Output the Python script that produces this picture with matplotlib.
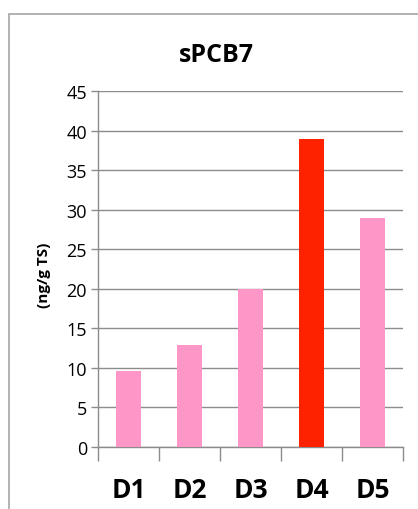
import matplotlib.pyplot as plt
from matplotlib.patches import Rectangle

categories = ["D1", "D2", "D3", "D4", "D5"]
values = [9.6, 12.9, 20.0, 38.9, 29.0]
bar_colors = ["#ff96c8", "#ff96c8", "#ff96c8", "#ff2200", "#ff96c8"]
y_ticks = [0, 5, 10, 15, 20, 25, 30, 35, 40, 45]

plt.rcParams['font.family'] = ['Open Sans', 'DejaVu Sans']

W, H = 418, 510
fig = plt.figure(figsize=(W / 100, H / 100), dpi=100)

# outer chart frame, cut off on the right and bottom
fig.add_artist(Rectangle((9 / W, -0.1), 2, 1 - 15 / H + 0.1, transform=fig.transFigure,
                         fill=False, edgecolor="#a6a6a6", linewidth=1.2))

ax = fig.add_axes([98 / W, (H - 448) / H, 305 / W, 356 / H])

x = list(range(len(categories)))
ax.bar(x, values, width=0.41, color=bar_colors, zorder=3)

ax.set_xlim(-0.5, len(categories) - 0.5)
ax.set_ylim(0, 45)
ax.set_yticks(y_ticks)
ax.set_yticklabels([str(v) for v in y_ticks], fontsize=13)
ax.yaxis.grid(True, color="#8c8c8c", linewidth=1.0, zorder=0)

ax.set_xticks(x)
ax.set_xticklabels(categories, fontsize=19, fontweight="bold")
ax.tick_params(axis="x", which="major", length=0, pad=21)
ax.set_xticks([i - 0.5 for i in range(len(categories) + 1)], minor=True)
ax.tick_params(axis="x", which="minor", length=10, color="#8c8c8c", width=1.0)
ax.tick_params(axis="y", length=5, color="#8c8c8c", width=1.0, pad=3)

for side in ["top", "right"]:
    ax.spines[side].set_visible(False)
for side in ["left", "bottom"]:
    ax.spines[side].set_color("#8c8c8c")
    ax.spines[side].set_linewidth(1.0)

fig.text(216 / W, 1 - 56 / H, "sPCB7", ha="center", va="center", fontsize=18, fontweight="bold")
fig.text(44 / W, 1 - 275 / H, "(ng/g TS)", ha="center", va="center", rotation=90,
         fontsize=11, fontweight="bold")

fig.savefig("out.png", dpi=100)
